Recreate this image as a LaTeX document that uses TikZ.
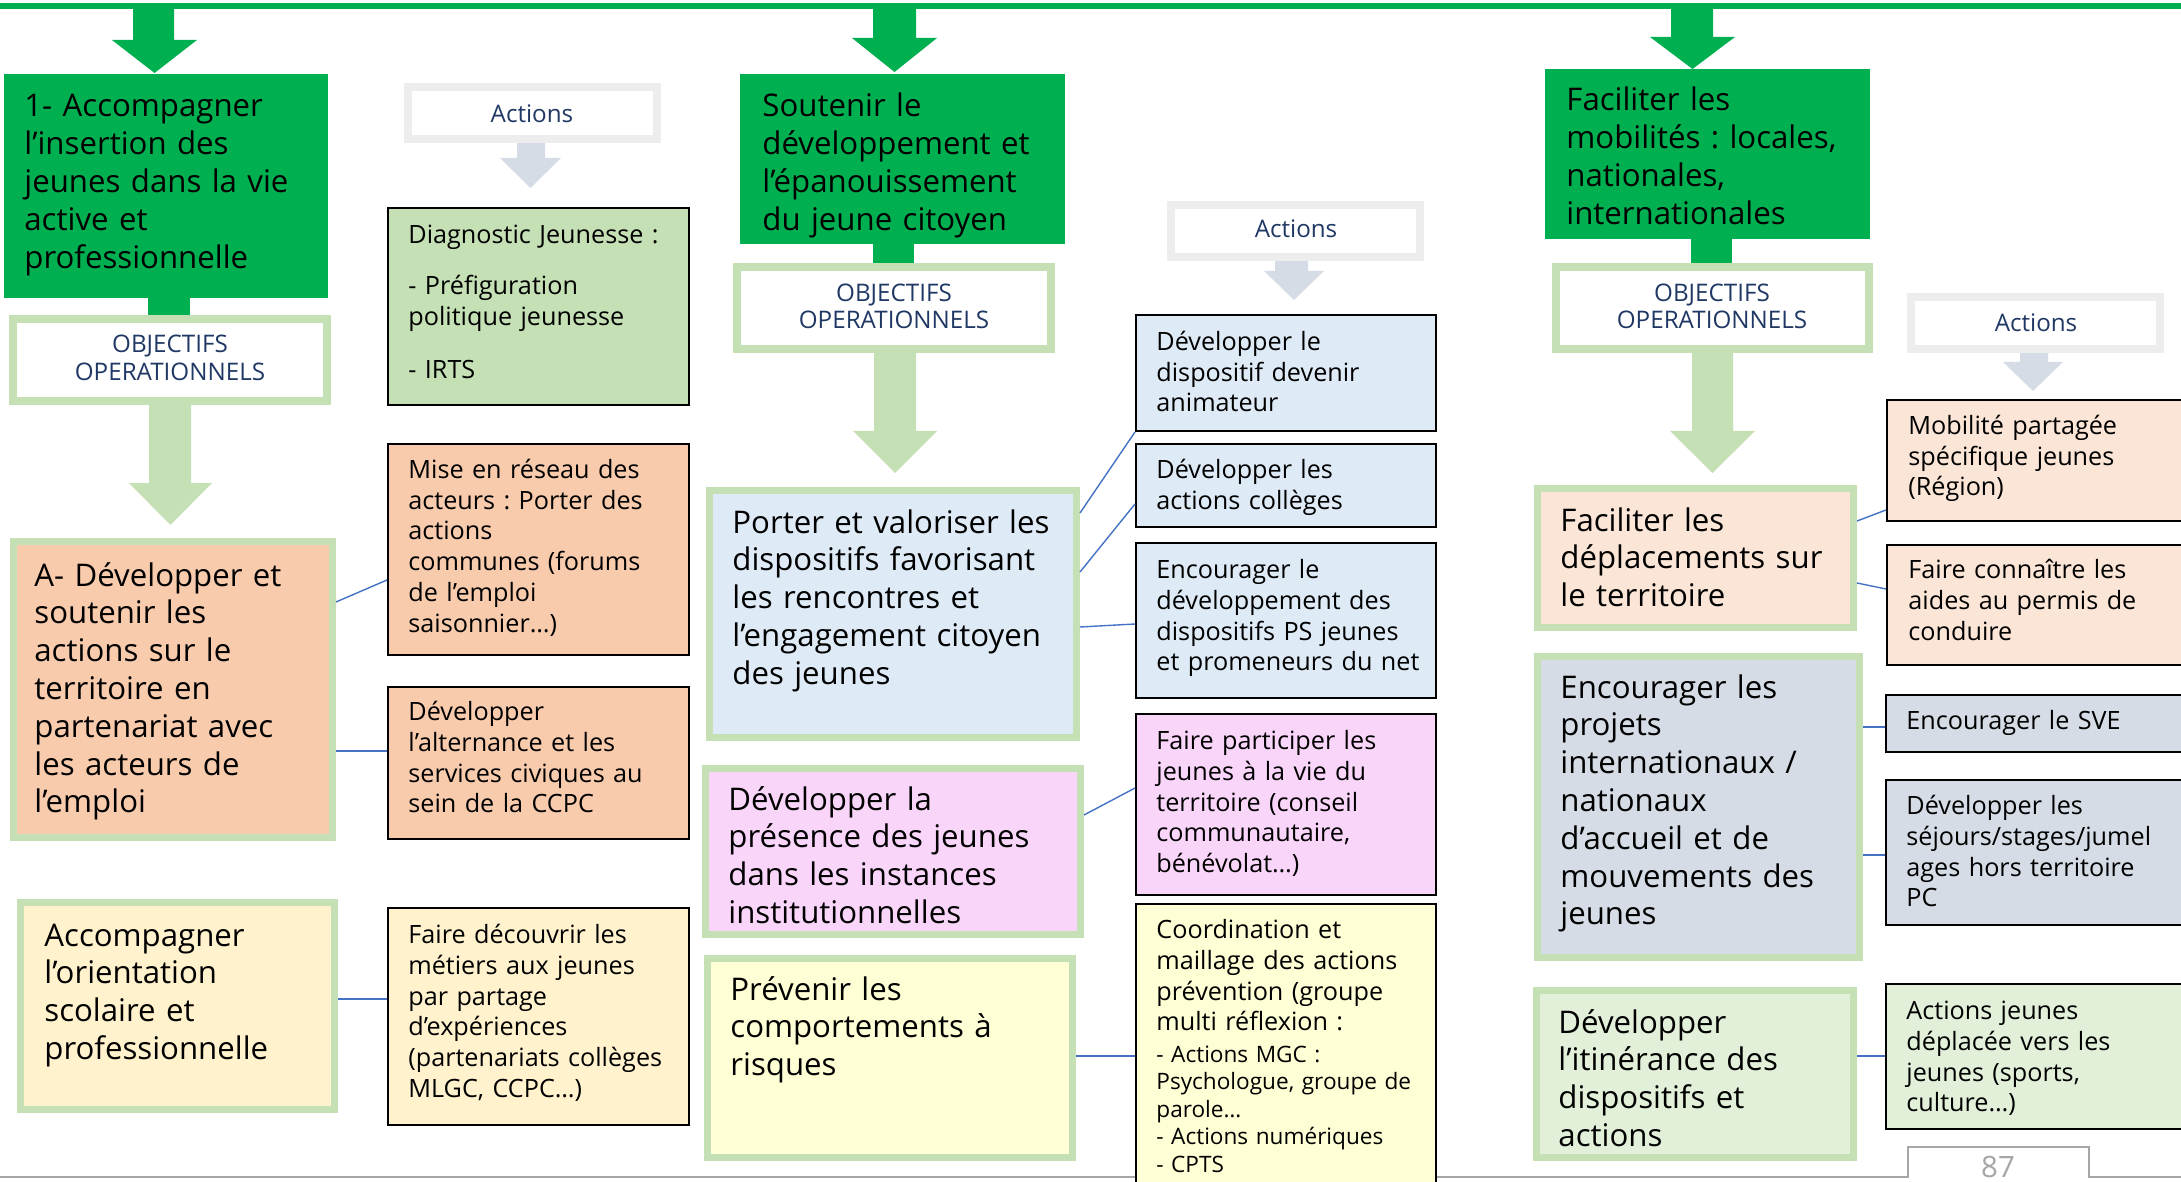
\documentclass[tikz,border=0pt]{standalone}
\usepackage{fontspec}
\setmainfont{Open Sans}
\usetikzlibrary{calc}
\frenchspacing
\definecolor{hgreen}{HTML}{00B050}
\definecolor{lgreen}{HTML}{C5E0B4}
\definecolor{peach}{HTML}{F8CBAD}
\definecolor{cream}{HTML}{FFF2CC}
\definecolor{lblue}{HTML}{DEEBF7}
\definecolor{pinkf}{RGB}{250,213,250}
\definecolor{paley}{RGB}{255,255,213}
\definecolor{lpeach}{HTML}{FBE5D6}
\definecolor{grayblue}{HTML}{D6DCE5}
\definecolor{palegr}{HTML}{E2F0D9}
\definecolor{lgray}{HTML}{EDEDED}
\definecolor{navy}{HTML}{203864}
\definecolor{cblue}{HTML}{4472C4}
\definecolor{pgray}{HTML}{A6A6A6}
\newcommand\txtbig{\fontsize{15.6}{18.9}\selectfont\frenchspacing}
\newcommand\txtsmall{\fontsize{12.6}{15.4}\selectfont\frenchspacing}
\newcommand\txttiny{\fontsize{11.3}{13.75}\selectfont\frenchspacing}
\newcommand\txtobj{\fontsize{12.1}{13.5}\selectfont}
% name, style, border(px), x1, y1, x2, y2  (outer edges, px)
\newcommand\placebox[7]{\node[#2, line width=#3*0.5pt, inner sep=0pt, minimum width={(#6-#4-#3)*0.5pt}, minimum height={(#7-#5-#3)*0.5pt}] (#1) at ({(#4+#6)/2},{(#5+#7)/2}) {};}
% color, shaft x1, shaft x2, shaft top, head x1, head x2, head top, tip
\newcommand\blockarrow[8]{\fill[#1] (#2,#4) -- (#3,#4) -- (#3,#7) -- (#6,#7) -- ({(#5+#6)/2},#8) -- (#5,#7) -- (#2,#7) -- cycle;}
\tikzset{
  hdr/.style={fill=hgreen},
  objb/.style={draw=lgreen, fill=white},
  actb/.style={draw=lgray, fill=white},
  obox/.style={draw=lgreen, fill=#1},
  abox/.style={draw=black, fill=#1},
  tx/.style={inner sep=0pt, anchor=base west, text width=230pt, align=left},
  tbig/.style={tx, font=\txtbig, yshift=-1.5pt},
  tsm/.style={tx, font=\txtsmall, yshift=-0.7pt},
  ttiny/.style={tx, font=\txttiny, yshift=-0.5pt},
  tobj/.style={inner sep=0pt, anchor=base, text width=200pt, align=center, font=\txtobj, text=navy},
  conn/.style={draw=cblue, line width=0.7pt}
}
\begin{document}
\begin{tikzpicture}[x=0.5pt,y=-0.5pt]
\useasboundingbox[fill=white] (0,0) rectangle (2181,1182);
% top and bottom rules
\draw[hgreen, line width=3pt] (0,6) -- (2181,6);
\draw[pgray, line width=1.25pt] (0,1177) -- (2181,1177);
% green arrows
\blockarrow{hgreen}{133}{174}{6}{112}{197}{40}{73}
\blockarrow{hgreen}{873}{916}{6}{852}{937}{38}{72}
\blockarrow{hgreen}{1671}{1713}{6}{1650}{1735}{37}{69}
% green links header -> objectifs
\fill[hgreen] (148,297) rectangle (190,316);
\fill[hgreen] (873,243) rectangle (914,264);
\fill[hgreen] (1691,238) rectangle (1732,264);
% light green arrows
\blockarrow{lgreen}{149}{191}{404}{129}{212}{483}{525}
\blockarrow{lgreen}{874}{916}{352}{853}{937}{431}{473}
\blockarrow{lgreen}{1692}{1733}{352}{1670}{1755}{431}{473}
% gray arrows
\blockarrow{grayblue}{517}{545}{142}{500}{561}{158}{188}
\blockarrow{grayblue}{1275}{1308}{260}{1264}{1324}{271}{300}
\blockarrow{grayblue}{2020}{2048}{352}{2003}{2063}{362}{391}

% ---------- column 1
\placebox{H1}{hdr}{0}{4}{74}{328}{298}
\placebox{O1}{objb}{8}{9}{315}{331}{405}
\placebox{A1}{obox=peach}{7}{10}{538}{336}{841}
\placebox{A2}{obox=cream}{7}{17}{899}{338}{1113}
\placebox{L1}{actb}{8}{404}{83}{661}{143}
\placebox{Diag}{abox=lgreen}{2.2}{387}{207}{690}{406}
\placebox{Mise}{abox=peach}{2.2}{387}{443}{690}{656}
\placebox{Alt}{abox=peach}{2.2}{387}{686}{690}{840}
\placebox{Dec}{abox=cream}{2.2}{387}{907}{690}{1126}

\node[tbig] (H1t) at (24,114) {1- Accompagner\\ l’insertion des\\ jeunes dans la vie\\ active et\\ professionnelle};
\node[tobj] (O1t) at (170,353) {OBJECTIFS\\ OPERATIONNELS};
\node[tbig] (A1t) at (34,583) {A- Développer et\\ soutenir les\\ actions sur le\\ territoire en\\ partenariat avec\\ les acteurs de\\ l’emploi};
\node[tbig] (A2t) at (44,943) {Accompagner\\ l’orientation\\ scolaire et\\ professionnelle};
\node[tobj] (L1t) at (532,123) {Actions};
\node[tsm] (Diagt) at (408,242) {Diagnostic Jeunesse :\\[10.1pt] - Préfiguration\\ politique jeunesse\\[11.1pt] - IRTS};
\node[tsm] (Miset) at (408,477) {Mise en réseau des\\ acteurs : Porter des\\ actions\\ communes (forums\\ de l’emploi\\ saisonnier…)};
\node[tsm] (Altt) at (408,719) {Développer\\ l’alternance et les\\ services civiques au\\ sein de la CCPC};
\node[tsm] (Dect) at (408,942) {Faire découvrir les\\ métiers aux jeunes\\ par partage\\ d’expériences\\ (partenariats collèges\\ MLGC, CCPC…)};

% ---------- column 2
\placebox{H2}{hdr}{0}{740}{74}{1065}{244}
\placebox{O2}{objb}{8}{733}{263}{1055}{353}
\placebox{B1}{obox=lblue}{7}{706}{487}{1080}{741}
\placebox{B2}{obox=pinkf}{7}{702}{765}{1084}{938}
\placebox{B3}{obox=paley}{7}{704}{955}{1076}{1161}
\placebox{L2}{actb}{8}{1167}{201}{1424}{261}
\placebox{C1}{abox=lblue}{2.2}{1135}{314}{1437}{432}
\placebox{C2}{abox=lblue}{2.2}{1135}{443}{1437}{528}
\placebox{C3}{abox=lblue}{2.2}{1135}{542}{1437}{699}
\placebox{C4}{abox=pinkf}{2.2}{1135}{713}{1437}{896}
\placebox{C5}{abox=paley}{2.2}{1135}{903}{1437}{1210}

\node[tbig] (H2t) at (762,114) {Soutenir le\\ développement et\\ l’épanouissement\\ du jeune citoyen};
\node[tobj] (O2t) at (894,302) {OBJECTIFS\\ OPERATIONNELS};
\node[tbig] (B1t) at (732,530) {Porter et valoriser les\\ dispositifs favorisant\\ les rencontres et\\ l’engagement citoyen\\ des jeunes};
\node[tbig] (B2t) at (728,807) {Développer la\\ présence des jeunes\\ dans les instances\\ institutionnelles};
\node[tbig] (B3t) at (730,997) {Prévenir les\\ comportements à\\ risques};
\node[tobj] (L2t) at (1296,238) {Actions};
\node[tsm] (C1t) at (1156,349) {Développer le\\ dispositif devenir\\ animateur};
\node[tsm] (C2t) at (1156,477) {Développer les\\ actions collèges};
\node[tsm] (C3t) at (1156,577) {Encourager le\\ développement des\\ dispositifs PS jeunes\\ et promeneurs du net};
\node[tsm] (C4t) at (1156,748) {Faire participer les\\ jeunes à la vie du\\ territoire (conseil\\ communautaire,\\ bénévolat…)};
\node[tsm] (C5t) at (1156,937) {Coordination et\\ maillage des actions\\ prévention (groupe\\ multi réflexion :};
\node[ttiny] (C5u) at (1156,1061) {- Actions MGC :\\ Psychologue, groupe de\\ parole…\\ - Actions numériques\\ - CPTS};

% ---------- column 3
\placebox{H3}{hdr}{0}{1545}{69}{1870}{239}
\placebox{O3}{objb}{8}{1552}{263}{1873}{353}
\placebox{D1}{obox=lpeach}{7}{1534}{485}{1857}{631}
\placebox{D2}{obox=grayblue}{7}{1534}{653}{1863}{961}
\placebox{D3}{obox=palegr}{7}{1533}{987}{1857}{1161}
\placebox{L3}{actb}{8}{1907}{293}{2164}{353}
\placebox{E1}{abox=lpeach}{2.2}{1886}{399}{2210}{522}
\placebox{E2}{abox=lpeach}{2.2}{1886}{544}{2210}{666}
\placebox{E3}{abox=grayblue}{2.2}{1885}{694}{2210}{753}
\placebox{E4}{abox=grayblue}{2.2}{1885}{779}{2210}{926}
\placebox{E5}{abox=palegr}{2.2}{1885}{983}{2210}{1130}

\node[tbig] (H3t) at (1566,108) {Faciliter les\\ mobilités : locales,\\ nationales,\\ internationales};
\node[tobj] (O3t) at (1712,302) {OBJECTIFS\\ OPERATIONNELS};
\node[tbig] (D1t) at (1560,528) {Faciliter les\\ déplacements sur\\ le territoire};
\node[tbig] (D2t) at (1560,695) {Encourager les\\ projets\\ internationaux /\\ nationaux\\ d’accueil et de\\ mouvements des\\ jeunes};
\node[tbig] (D3t) at (1558,1030) {Développer\\ l’itinérance des\\ dispositifs et\\ actions};
\node[tobj] (L3t) at (2036,332) {Actions};
\node[tsm] (E1t) at (1908,433) {Mobilité partagée\\ spécifique jeunes\\ (Région)};
\node[tsm] (E2t) at (1908,577) {Faire connaître les\\ aides au permis de\\ conduire};
\node[tsm] (E3t) at (1906,728) {Encourager le SVE};
\node[tsm] (E4t) at (1906,813) {Développer les\\ séjours/stages/jumel\\ ages hors territoire\\ PC};
\node[tsm] (E5t) at (1906,1018) {Actions jeunes\\ déplacée vers les\\ jeunes (sports,\\ culture…)};

% ---------- connectors
\draw[conn] (A1.east |- 0,602) -- (Mise.west |- 0,580);
\draw[conn] (A1.east |- 0,751) -- (Alt.west |- 0,751);
\draw[conn] (A2.east |- 0,999) -- (Dec.west |- 0,999);
\draw[conn] (B1.east |- 0,513) -- (C1.south west);
\draw[conn] (B1.east |- 0,572) -- (C2.west |- 0,504);
\draw[conn] (B1.east |- 0,627) -- (C3.west |- 0,624);
\draw[conn] (B2.east |- 0,815) -- (C4.west |- 0,788);
\draw[conn] (B3.east |- 0,1056) -- (C5.west |- 0,1056);
\draw[conn] (D1.east |- 0,521) -- (E1.west |- 0,510);
\draw[conn] (D1.east |- 0,583) -- (E2.west |- 0,589);
\draw[conn] (D2.east |- 0,727) -- (E3.west |- 0,727);
\draw[conn] (D2.east |- 0,855) -- (E4.west |- 0,855);
\draw[conn] (D3.east |- 0,1056) -- (E5.west |- 0,1056);

% ---------- page tab
\fill[white] (1909,1148) rectangle (2088,1185);
\draw[pgray, line width=1pt] (1908,1177) -- (1908,1147) -- (2089,1147) -- (2089,1177);
\node[inner sep=0pt, anchor=base, font=\fontsize{14.7}{16}\selectfont, text=pgray] (pg) at (1998,1177) {87};
\end{tikzpicture}
\end{document}
